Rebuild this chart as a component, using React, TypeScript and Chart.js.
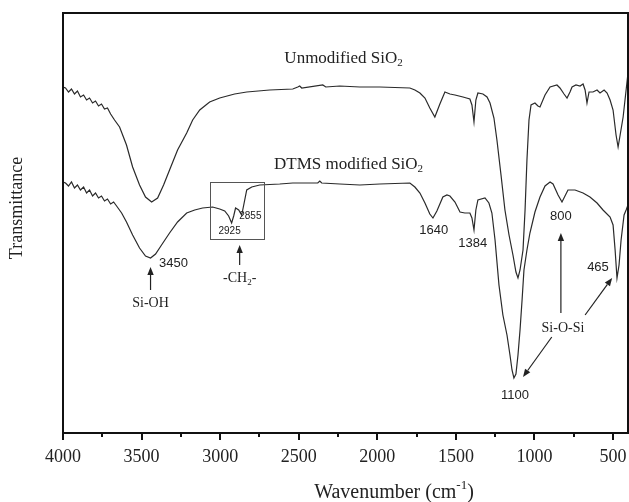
import React, { useEffect, useRef } from 'react';
import { Chart, registerables } from 'chart.js';

Chart.register(...registerables);

// Wavenumber (cm^-1) and transmittance (arbitrary units)
const unmodWavenumber = [
  4000, 3984, 3965, 3946, 3927, 3908, 3889, 3869, 3850, 3831, 3812, 3793, 3774, 3755, 3736, 3717, 3697, 3672, 3640, 3596,
  3557, 3513, 3475, 3436, 3398, 3360, 3322, 3271, 3213, 3175, 3130, 3067, 3003, 2908, 2831, 2685, 2538, 2506, 2494, 2481,
  2347, 2328, 2239, 2111, 1984, 1793, 1761, 1729, 1697, 1666, 1634, 1602, 1570, 1538, 1506, 1455, 1411, 1398, 1385, 1373,
  1360, 1328, 1302, 1283, 1258, 1239, 1213, 1188, 1162, 1137, 1118, 1105, 1092, 1073, 1060, 1048, 1035, 1022, 997, 978,
  965, 933, 901, 857, 838, 812, 793, 774, 761, 736, 710, 691, 678, 666, 653, 628, 602, 583, 557, 538,
  519, 500, 481, 468, 455, 436, 417, 405,
];
const unmodT = [
  346, 345, 341, 344, 339, 342, 336, 338, 333, 335, 330, 332, 327, 329, 324, 325, 319, 313, 306, 288,
  266, 248, 236, 231, 235, 248, 263, 283, 300, 313, 323, 331, 335, 339, 341, 343, 344, 346, 347, 345,
  348, 346, 347, 346, 346, 345, 343, 340, 335, 325, 316, 329, 341, 339, 338, 336, 334, 328, 311, 333,
  340, 339, 336, 330, 315, 293, 258, 223, 198, 178, 161, 155, 163, 183, 223, 273, 313, 328, 330, 327,
  326, 338, 346, 348, 345, 339, 335, 341, 346, 348, 347, 349, 343, 330, 341, 341, 343, 340, 343, 340,
  333, 323, 298, 286, 298, 316, 343, 360,
];

const dtmsWavenumber = [
  4000, 3984, 3965, 3946, 3927, 3908, 3889, 3869, 3850, 3831, 3812, 3793, 3774, 3755, 3736, 3717, 3697, 3678, 3659, 3627,
  3596, 3557, 3513, 3475, 3443, 3411, 3373, 3322, 3271, 3213, 3162, 3112, 3048, 3003, 2971, 2946, 2927, 2914, 2902, 2882,
  2863, 2850, 2831, 2799, 2748, 2621, 2538, 2379, 2366, 2354, 2239, 2111, 1984, 1793, 1761, 1729, 1697, 1666, 1646, 1621,
  1583, 1557, 1538, 1506, 1474, 1443, 1411, 1398, 1385, 1373, 1360, 1315, 1290, 1271, 1251, 1226, 1201, 1175, 1156, 1143,
  1131, 1118, 1105, 1092, 1079, 1067, 1048, 1029, 997, 965, 933, 901, 882, 850, 825, 806, 787, 742, 691, 647,
  602, 564, 519, 500, 487, 475, 462, 449, 430, 417, 405,
];
const dtmsT = [
  251, 250, 247, 251, 245, 248, 243, 246, 240, 243, 237, 240, 235, 237, 232, 234, 229, 231, 227, 220,
  211, 198, 185, 177, 175, 179, 188, 200, 211, 220, 223, 225, 226, 224, 222, 217, 210, 217, 225, 223,
  218, 228, 243, 246, 248, 249, 250, 250, 252, 250, 249, 248, 249, 250, 246, 240, 230, 219, 215, 222,
  236, 238, 237, 231, 221, 220, 220, 215, 203, 223, 233, 235, 230, 220, 193, 148, 118, 98, 78, 63,
  55, 59, 78, 103, 133, 163, 183, 200, 221, 236, 247, 251, 249, 238, 231, 237, 243, 243, 240, 236,
  230, 223, 216, 208, 183, 155, 168, 193, 218, 223, 228,
];

const xTickValues = [4000, 3750, 3500, 3250, 3000, 2750, 2500, 2250, 2000, 1750, 1500, 1250, 1000, 750, 500];
const xMajorStep = 500;

const SERIF = '"Liberation Serif", "Times New Roman", serif';
const SANS = '"Liberation Sans", Arial, sans-serif';
const INK = '#222';

type Part = { s: string; sub?: boolean; sup?: boolean };

const seriesLabels = [
  { parts: [{ s: 'Unmodified SiO' }, { s: '2', sub: true }], wn: 2215, t: 376 },
  { parts: [{ s: 'DTMS modified SiO' }, { s: '2', sub: true }], wn: 2183, t: 270 },
];
const bandLabels = [
  { s: '3450', wn: 3297, t: 170, size: 13 },
  { s: '2925', wn: 2940, t: 202, size: 10 },
  { s: '2855', wn: 2808, t: 217, size: 10 },
  { s: '1640', wn: 1641, t: 203, size: 13 },
  { s: '1384', wn: 1393, t: 190, size: 13 },
  { s: '800', wn: 832, t: 217, size: 13 },
  { s: '1100', wn: 1124, t: 38, size: 13 },
  { s: '465', wn: 596, t: 166, size: 13 },
];
const groupLabels = [
  { parts: [{ s: 'Si-OH' }], wn: 3443, t: 131 },
  { parts: [{ s: '-CH' }, { s: '2', sub: true }, { s: '-' }], wn: 2876, t: 156 },
  { parts: [{ s: 'Si-O-Si' }], wn: 819, t: 106 },
];
const arrows = [
  { from: [3443, 143], to: [3443, 166] },
  { from: [2876, 168], to: [2876, 188] },
  { from: [832, 120], to: [832, 200] },
  { from: [890, 96], to: [1073, 56] },
  { from: [678, 118], to: [506, 155] },
];
const box = { wn1: 3067, wn2: 2723, t1: 251, t2: 194 };

function drawParts(ctx: CanvasRenderingContext2D, parts: Part[], cx: number, cy: number, size: number, family: string) {
  const subSize = Math.round(size * 0.65);
  const widths = parts.map((p) => {
    ctx.font = `${p.sub || p.sup ? subSize : size}px ${family}`;
    return ctx.measureText(p.s).width;
  });
  const total = widths.reduce((a, b) => a + b, 0);
  let x = cx - total / 2;
  ctx.textAlign = 'left';
  ctx.textBaseline = 'alphabetic';
  const base = cy + size * 0.33;
  parts.forEach((p, i) => {
    ctx.font = `${p.sub || p.sup ? subSize : size}px ${family}`;
    const yy = p.sub ? base + size * 0.22 : p.sup ? base - size * 0.42 : base;
    ctx.fillText(p.s, x, yy);
    x += widths[i];
  });
}

const decorPlugin = {
  id: 'decor',
  afterDraw(chart: any) {
    const { ctx, chartArea: a, scales } = chart;
    const xs = scales.x;
    const ys = scales.y;
    const X = (v: number) => xs.getPixelForValue(v);
    const Y = (v: number) => ys.getPixelForValue(v);
    ctx.save();
    ctx.strokeStyle = '#111';
    ctx.fillStyle = INK;

    // frame
    ctx.lineWidth = 2;
    ctx.strokeRect(a.left, a.top, a.right - a.left, a.bottom - a.top);

    // x tick marks (outward)
    for (const v of xTickValues) {
      const px = Math.round(X(v));
      const len = v % xMajorStep === 0 ? 7 : 4;
      ctx.beginPath();
      ctx.moveTo(px, a.bottom);
      ctx.lineTo(px, a.bottom + len);
      ctx.stroke();
    }

    // axis titles
    ctx.save();
    ctx.translate(17, 208);
    ctx.rotate(-Math.PI / 2);
    ctx.font = `18px ${SERIF}`;
    ctx.textAlign = 'center';
    ctx.textBaseline = 'middle';
    ctx.fillText('Transmittance', 0, 0);
    ctx.restore();
    drawParts(ctx, [{ s: 'Wavenumber (cm' }, { s: '-1', sup: true }, { s: ')' }], 394, 491, 20, SERIF);

    // series labels
    for (const l of seriesLabels) drawParts(ctx, l.parts, X(l.wn), Y(l.t), 17, SERIF);
    for (const l of groupLabels) drawParts(ctx, l.parts, X(l.wn), Y(l.t), 14, SERIF);

    // band labels
    ctx.textAlign = 'center';
    ctx.textBaseline = 'middle';
    for (const l of bandLabels) {
      ctx.font = `${l.size}px ${SANS}`;
      ctx.fillText(l.s, X(l.wn), Y(l.t));
    }

    // box
    ctx.strokeStyle = '#555';
    ctx.lineWidth = 1;
    const bx1 = X(box.wn1), bx2 = X(box.wn2), by1 = Y(box.t1), by2 = Y(box.t2);
    ctx.strokeRect(Math.round(bx1) + 0.5, Math.round(by1) + 0.5, Math.round(bx2 - bx1), Math.round(by2 - by1));

    // arrows
    ctx.strokeStyle = INK;
    ctx.lineWidth = 1.2;
    for (const ar of arrows) {
      const x1 = X(ar.from[0]), y1 = Y(ar.from[1]);
      const x2 = X(ar.to[0]), y2 = Y(ar.to[1]);
      const ang = Math.atan2(y2 - y1, x2 - x1);
      const hl = 8, hw = 3.2;
      const bxp = x2 - hl * Math.cos(ang), byp = y2 - hl * Math.sin(ang);
      ctx.beginPath();
      ctx.moveTo(x1, y1);
      ctx.lineTo(bxp, byp);
      ctx.stroke();
      ctx.beginPath();
      ctx.moveTo(x2, y2);
      ctx.lineTo(bxp + hw * Math.sin(ang), byp - hw * Math.cos(ang));
      ctx.lineTo(bxp - hw * Math.sin(ang), byp + hw * Math.cos(ang));
      ctx.closePath();
      ctx.fill();
    }
    ctx.restore();
  },
};

export default function App() {
  const canvasRef = useRef<HTMLCanvasElement | null>(null);

  useEffect(() => {
    if (!canvasRef.current) return;
    const mk = (w: number[], t: number[]) => w.map((v, i) => ({ x: v, y: t[i] }));
    const chart = new Chart(canvasRef.current, {
      type: 'line',
      data: {
        datasets: [
          {
            label: 'Unmodified SiO2',
            data: mk(unmodWavenumber, unmodT),
            borderColor: '#2a2a2a',
            borderWidth: 1.2,
            pointRadius: 0,
            tension: 0,
          },
          {
            label: 'DTMS modified SiO2',
            data: mk(dtmsWavenumber, dtmsT),
            borderColor: '#2a2a2a',
            borderWidth: 1.2,
            pointRadius: 0,
            tension: 0,
          },
        ],
      },
      options: {
        animation: false,
        responsive: true,
        maintainAspectRatio: false,
        devicePixelRatio: 1,
        layout: { padding: { top: 13, right: 1, left: 0, bottom: 0 } },
        plugins: { legend: { display: false }, tooltip: { enabled: false } },
        scales: {
          x: {
            type: 'linear',
            reverse: true,
            min: 405,
            max: 4000,
            afterBuildTicks: (s: any) => {
              s.ticks = xTickValues.map((v) => ({ value: v }));
            },
            afterFit: (s: any) => {
              s.height = 69;
              s.paddingLeft = 0;
              s.paddingRight = 0;
            },
            ticks: {
              autoSkip: false,
              maxRotation: 0,
              padding: 13,
              color: INK,
              font: { family: SERIF, size: 18 },
              callback: (v: any) => (Number(v) % xMajorStep === 0 ? String(v) : ''),
            },
            grid: { display: false, drawTicks: false },
            border: { display: false },
          },
          y: {
            type: 'linear',
            min: 0,
            max: 420,
            afterFit: (s: any) => {
              s.width = 63;
              s.paddingTop = 0;
              s.paddingBottom = 0;
            },
            ticks: { display: false },
            grid: { display: false, drawTicks: false },
            border: { display: false },
          },
        },
      },
      plugins: [decorPlugin],
    });
    return () => chart.destroy();
  }, []);

  return (
    <div style={{ position: 'absolute', left: 0, top: 0, width: 629, height: 502, background: '#fff' }}>
      <canvas ref={canvasRef} style={{ display: 'block' }} />
    </div>
  );
}
